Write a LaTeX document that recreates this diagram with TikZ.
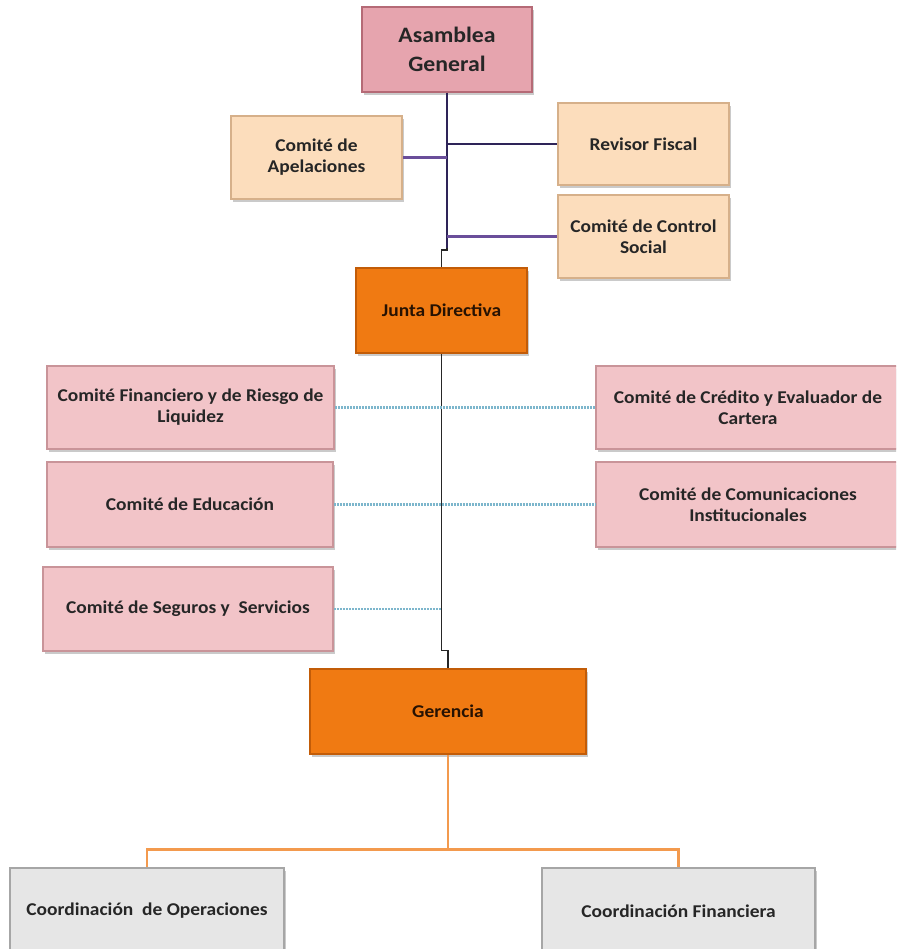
\documentclass[tikz,border=0pt]{standalone}
\usepackage{fontspec}
\setmainfont{Carlito}[FakeStretch=1.08]
\usetikzlibrary{shadows}
\definecolor{asamf}{HTML}{E6A4AE}
\definecolor{asamd}{HTML}{B56A76}
\definecolor{peachf}{HTML}{FCDDBC}
\definecolor{peachd}{HTML}{D6B08A}
\definecolor{orngf}{HTML}{F07A12}
\definecolor{orngd}{HTML}{C25C08}
\definecolor{pinkf}{HTML}{F2C4C8}
\definecolor{pinkd}{HTML}{C99499}
\definecolor{grayf}{HTML}{E6E6E6}
\definecolor{grayd}{HTML}{A6A6A6}
\definecolor{purp}{HTML}{6A4E9A}
\definecolor{navyl}{HTML}{2E2458}
\definecolor{dotblue}{HTML}{7DB6CC}
\definecolor{lineor}{HTML}{F39A4E}
\begin{document}
\begin{tikzpicture}[x=1pt,y=-1pt,
  box/.style={rectangle, draw, line width=1.5pt, align=center, inner sep=2pt,
    font=\fontsize{18}{21}\selectfont\bfseries, text=black!85,
    drop shadow={shadow xshift=2pt, shadow yshift=-3pt, opacity=0.35, fill=black!60}},
  asambox/.style={box, fill=asamf, draw=asamd, font=\fontsize{22}{29}\selectfont\bfseries},
  peachbox/.style={box, fill=peachf, draw=peachd},
  orbox/.style={box, fill=orngf, draw=orngd, text=black!80!orngd},
  pinkbox/.style={box, fill=pinkf, draw=pinkd},
  graybox/.style={box, fill=grayf, draw=grayd},
  purpline/.style={purp, line width=2.6pt},
  navyline/.style={navyl, line width=2.4pt},
  thinline/.style={black!85, line width=1.4pt},
  dotline/.style={dotblue, line width=2.2pt, dash pattern=on 2pt off 1pt},
  orline/.style={lineor, line width=2.8pt}]
\useasboundingbox (0,0) rectangle (896,949);
\clip (0,0) rectangle (896,949);

\node[asambox, minimum width=170pt, minimum height=85pt] (asam) at (447,49.5) {Asamblea\\General};
\node[peachbox, minimum width=171pt, minimum height=83pt] (apel) at (316.5,157.5) {Comité de\\Apelaciones};
\node[peachbox, minimum width=171pt, minimum height=82pt] (rev) at (643.5,144) {Revisor Fiscal};
\node[peachbox, minimum width=171pt, minimum height=83pt] (ctrl) at (643.5,236.5) {Comité de Control\\Social};
\node[orbox, minimum width=171pt, minimum height=85pt] (junta) at (441.5,310.5) {Junta Directiva};
\node[pinkbox, minimum width=287pt, minimum height=83pt] (fin) at (190.5,407.5) {Comité Financiero y de Riesgo de\\Liquidez};
\node[pinkbox, minimum width=304pt, minimum height=83pt] (cred) at (748,407.5) {Comité de Crédito y Evaluador de\\Cartera};
\node[pinkbox, minimum width=286pt, minimum height=85pt] (edu) at (190,504.5) {Comité de Educación};
\node[pinkbox, minimum width=304pt, minimum height=85pt] (com) at (748,504.5) {Comité de Comunicaciones\\Institucionales};
\node[pinkbox, minimum width=290pt, minimum height=84pt] (seg) at (188,609) {Comité de Seguros y\ \ Servicios};
\node[orbox, minimum width=276pt, minimum height=85pt] (ger) at (448,711.5) {Gerencia};
\node[graybox, minimum width=274pt, minimum height=86pt] (cop) at (147,911) {Coordinación\ \ de Operaciones};
\node[graybox, minimum width=273pt, minimum height=86pt] (cfin) at (678.5,911) {Coordinación Financiera};

% upper trunk
\coordinate (t1) at (447,248);
\draw[navyline] (asam.south) -- (t1);
\draw[thinline] (t1) -- ++(0,2) -| (junta.north);
\draw[navyl, line width=1.6pt] (rev.west -| asam.south) -- (rev.west);
\draw[purpline] (apel.east) -- (apel.east -| asam.south);
\draw[purpline] (ctrl.west -| asam.south) -- (ctrl.west);

% middle trunk
\draw[thinline] (junta.south) -- ++(0,297) -| (ger.north);
\draw[dotline] (fin.east) -- (cred.west);
\draw[dotline] (edu.east) -- (com.west);
\draw[dotline] (seg.east) -- (seg.east -| junta.south);

% lower
\draw[orline] (ger.south) -- ++(0,95) coordinate (bar);
\draw[orline] (cop.north) |- (bar) -| (cfin.north);
\end{tikzpicture}
\end{document}
